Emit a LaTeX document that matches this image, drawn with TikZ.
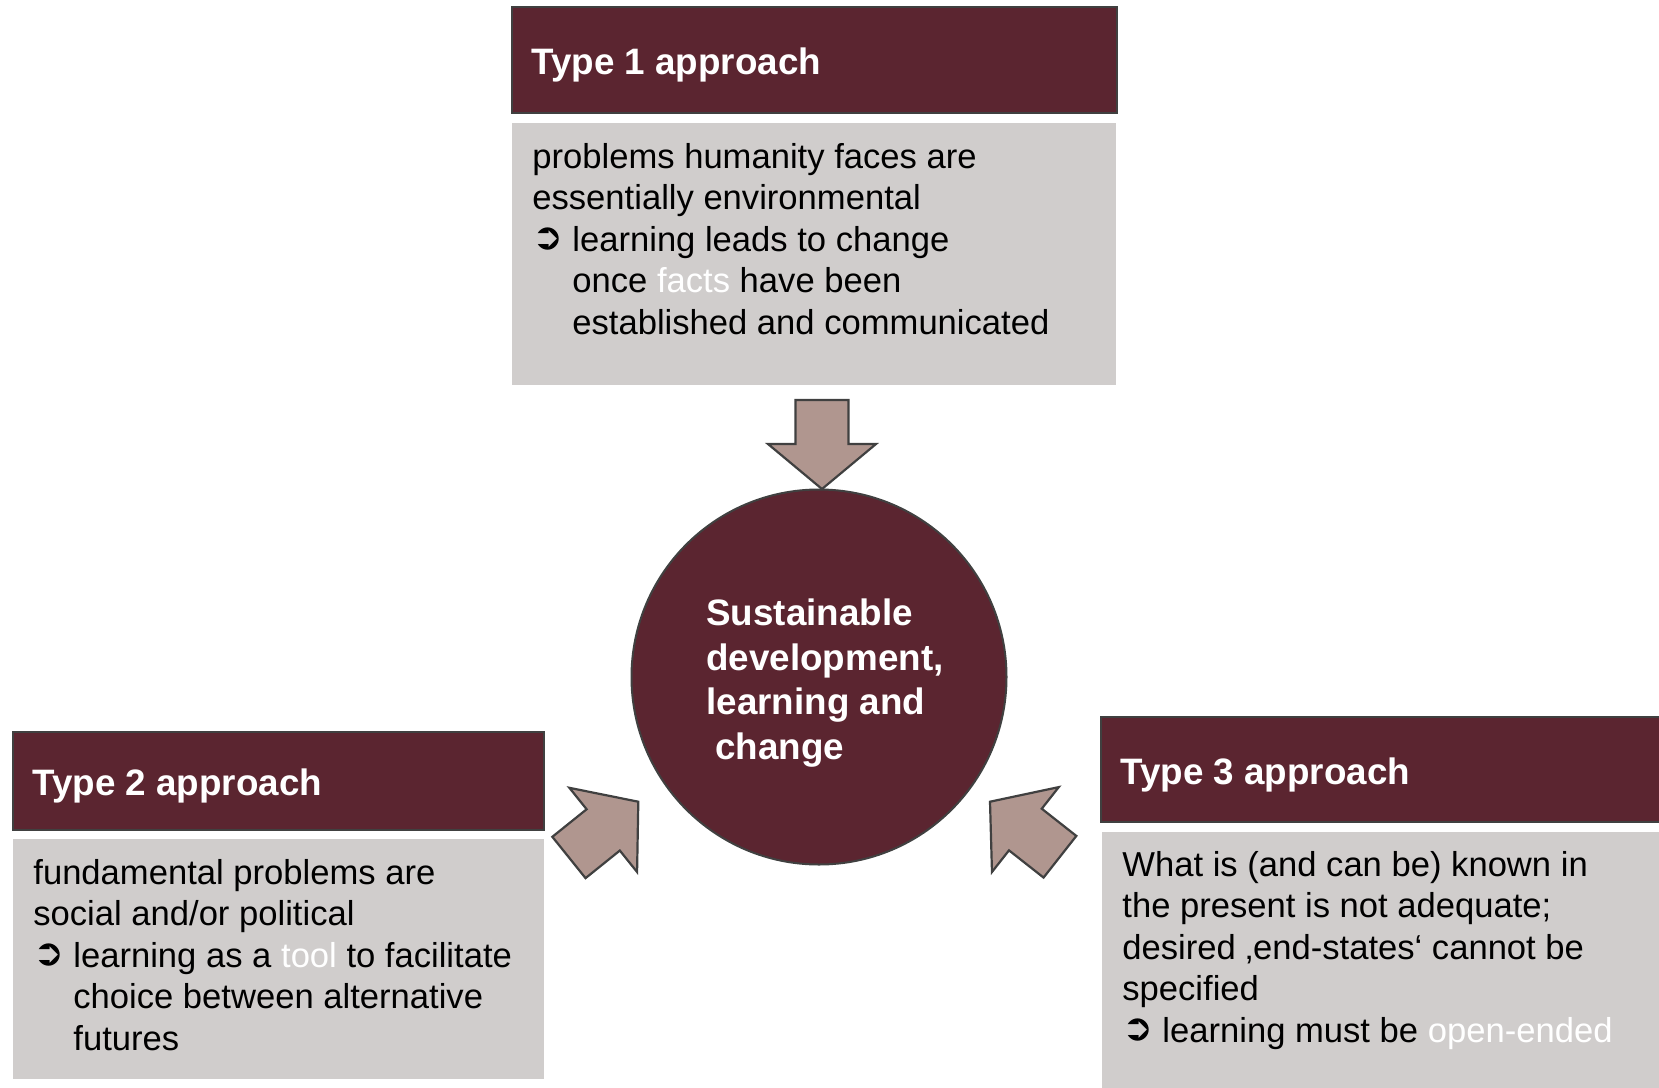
\documentclass[tikz,border=0pt]{standalone}
\usepackage{fontspec}
\setmainfont{Liberation Sans}
\newfontfamily\dvsans{DejaVu Sans}
\definecolor{maroon}{RGB}{91,37,48}
\definecolor{boxgray}{RGB}{208,205,204}
\definecolor{arrowfill}{RGB}{176,150,143}
\definecolor{edgegray}{RGB}{64,64,64}
\newcommand{\bul}{\makebox[20pt][l]{\raisebox{0.8pt}{\dvsans\fontsize{18.5}{18.5}\selectfont ➲}}}
\newcommand{\ind}{\hspace*{20pt}}
\tikzset{
  header/.style={fill=maroon, draw=edgegray, line width=0.75pt},
  bodybox/.style={fill=boxgray},
  titletext/.style={text=white, font=\bfseries\fontsize{18.4}{22.4}\selectfont, anchor=west, inner sep=0},
  bodytext/.style={text=black, font=\fontsize{17.3}{20.75}\selectfont, align=left, anchor=north west, inner sep=0},
  blockarrow/.style={fill=arrowfill, draw=edgegray, line width=1.1pt, line join=miter},
  barrow/.pic={\draw[blockarrow] (0,0) -- (-54,-45) -- (-26.5,-45) -- (-26.5,-89) -- (26.5,-89) -- (26.5,-45) -- (54,-45) -- cycle;}
}
\begin{document}
\begin{tikzpicture}[x=0.5pt, y=-0.5pt]
\useasboundingbox (0,0) rectangle (1659,1087);
\fill[white] (0,0) rectangle (1659,1087);

% Type 1
\draw[header] (512,7) rectangle (1117,113);
\node[titletext] (t1) at (531,64.5) {Type 1 approach};
\fill[bodybox] (512,123) rectangle (1116,385);
\node[bodytext] (b1) at (532,143) {problems humanity faces are\\essentially environmental\\\bul learning leads to change\\\ind once {\color{white}facts} have been\\\ind established and communicated};

% Type 2
\draw[header] (13,732) rectangle (544,830);
\node[titletext] (t2) at (32,785.5) {Type 2 approach};
\fill[bodybox] (13,839) rectangle (544,1079);
\node[bodytext] (b2) at (33,859) {fundamental problems are\\social and/or political\\\bul learning as a {\color{white}tool} to facilitate\\\ind choice between alternative\\\ind futures};

% Type 3
\draw[header] (1101,717) rectangle (1665,822);
\node[titletext] (t3) at (1120,774.5) {Type 3 approach};
\fill[bodybox] (1102,832) rectangle (1665,1092);
\node[bodytext] (b3) at (1122,851) {What is (and can be) known in\\the present is not adequate;\\desired ‚end-states‘ cannot be\\specified\\\bul learning must be {\color{white}open-ended}};

% Centre circle
\node[circle, fill=maroon, draw=edgegray, line width=1pt, minimum size=187.5pt, inner sep=0] (c) at (819,677) {};
\node[text=white, font=\bfseries\fontsize{18.4}{22.35}\selectfont, align=left, inner sep=0] (ct) at ([xshift=3pt,yshift=-3pt]c.center) {Sustainable\\development,\\learning and\\\hspace*{4.5pt}change};

% Arrows
\pic at (822,489) {barrow};
\pic[rotate=128.8] at (638.3,801.7) {barrow};
\pic[rotate=-128.2] at (990,801.7) {barrow};
\end{tikzpicture}
\end{document}
